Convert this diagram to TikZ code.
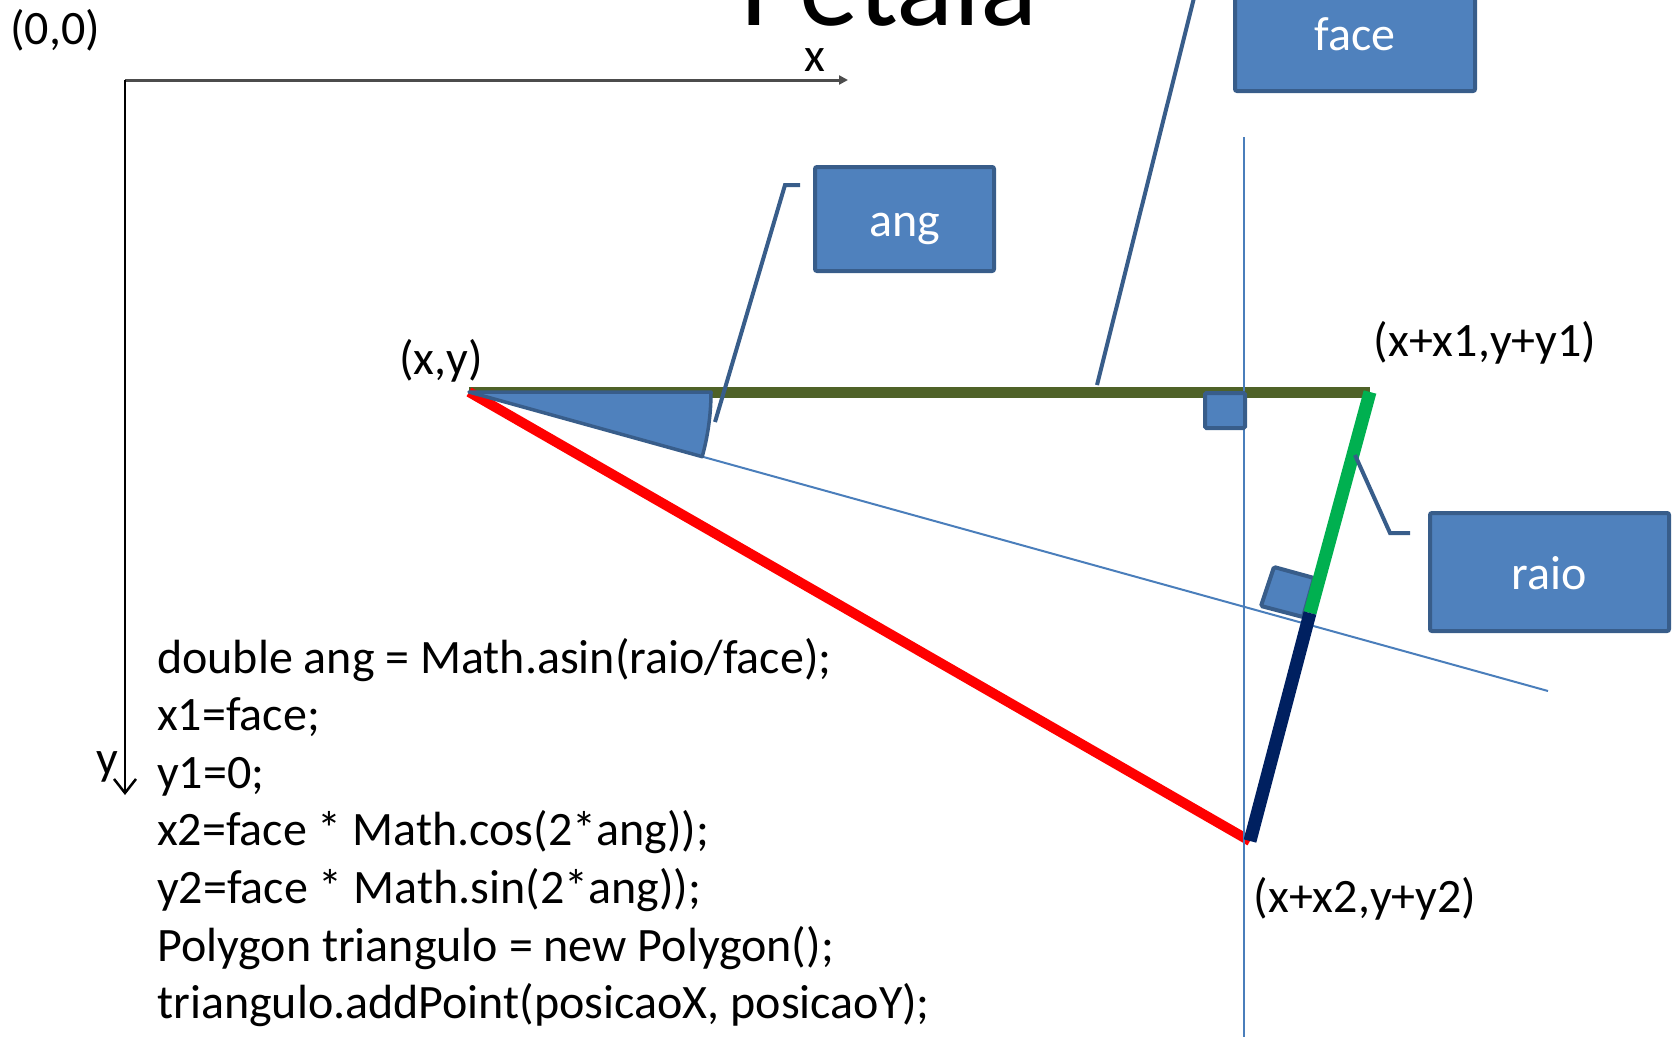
\documentclass[tikz,border=0pt]{standalone}
\usepackage{fontspec}
\setmainfont{Carlito}
\usetikzlibrary{arrows.meta}
\definecolor{boxfill}{HTML}{4F81BD}
\definecolor{boxline}{HTML}{385D8A}
\definecolor{olivebar}{HTML}{4F6228}
\definecolor{greenbar}{HTML}{00B050}
\definecolor{navybar}{HTML}{002060}
\definecolor{thinblue}{HTML}{4A7EBB}
\begin{document}
\begin{tikzpicture}[x=1pt,y=-1pt,
  lbl/.style={font=\fontsize{48}{57.6}\selectfont, inner sep=0pt},
  codeline/.style={lbl, anchor=base west},
  callbox/.style={draw=boxline, line width=4pt, fill=boxfill, rounded corners=2pt,
    text=white, font=\fontsize{48}{57.6}\selectfont, inner sep=0pt,
    text height=34pt, text depth=0pt},
  callline/.style={draw=boxline, line width=4pt},
  rtmark/.style={draw=boxline, fill=boxfill, line width=4pt, rounded corners=1.5pt},
  thin/.style={draw=thinblue, line width=2pt}]
\useasboundingbox (0,0) rectangle (1672,1036);
% key points
\coordinate (O) at (125,80);
\coordinate (xend) at (848,80);
\coordinate (yend) at (125,795);
\coordinate (P0) at (469,392);
\coordinate (P1) at (1370,392);
\coordinate (F) at (1310,613);
\coordinate (P2) at (1250,841);
\coordinate (vtop) at (1244,137);
\coordinate (vbot) at (1244,1045);
\coordinate (sl) at (1548,691);
% title
\node[font=\fontsize{119}{135}\selectfont, anchor=base west, inner sep=0pt] (title) at (740,25) {Petala};
% axes
\draw[black!70, line width=3pt, -{Triangle[length=9pt,width=9pt]}] (O) -- (xend);
\draw[black, line width=2.5pt, -{Straight Barb[length=14pt,width=22pt]}] (O) -- (yend);
\node[lbl] (origin) at (55,30) {(0,0)};
\node[lbl] (xlab) at (815,60) {x};
\node[lbl] (ylab) at (107,767) {y};
% geometry
\draw[olivebar, line width=11pt] (P0) -- (P1);
\draw[red, line width=10pt] (P0) -- (P2);
\draw[thin] (vtop) -- (vbot);
\draw[thin] (P0) -- (sl);
\filldraw[fill=boxfill, draw=boxline, line width=3.5pt, line join=round]
  (P0) -- ++(242,0) arc[start angle=0, end angle=15.5, radius=242] -- cycle;
\draw[rtmark] (1205,393) rectangle (1245,428);
\draw[rtmark] (1261,606) -- (1274,567) -- (1314,578) -- (1303,617) -- cycle;
\draw[greenbar, line width=13pt] (P1) -- (F);
\draw[navybar, line width=13pt] (F) -- (P2);
% point labels
\node[lbl] (xy) at (441,361) {(x,y)};
\node[lbl] (p1lab) at (1485,343) {(x+x1,y+y1)};
\node[lbl] (p2lab) at (1365,899) {(x+x2,y+y2)};
% callouts
\node[callbox, minimum width=179pt, minimum height=104pt] (angbox) at (904.5,219) {ang};
\node[callbox, minimum width=240pt, minimum height=116pt] (facebox) at (1355,33) {face};
\node[callbox, minimum width=239pt, minimum height=118pt] (raiobox) at (1549.5,572) {raio};
\coordinate (angtip) at (715,422);
\coordinate (angknee) at (785,185);
\coordinate (angend) at (800,185);
\coordinate (facetip) at (1097,385);
\coordinate (faceend) at (1201,-30);
\coordinate (raiotip) at (1355,455);
\coordinate (raioknee) at (1390,533);
\coordinate (raioend) at (1410,533);
\draw[callline] (angtip) -- (angknee) -- (angend);
\draw[callline] (facetip) -- (faceend);
\draw[callline] (raiotip) -- (raioknee) -- (raioend);
% code
\node[codeline] (c1) at (157,673) {double ang = Math.asin(raio/face);};
\node[codeline] (c2) at (157,730.6) {x1=face;};
\node[codeline] (c3) at (157,788.2) {y1=0;};
\node[codeline] (c4) at (157,845.8) {x2=face * Math.cos(2*ang));};
\node[codeline] (c5) at (157,903.4) {y2=face * Math.sin(2*ang));};
\node[codeline] (c6) at (157,961) {Polygon triangulo = new Polygon();};
\node[codeline] (c7) at (157,1018.6) {triangulo.addPoint(posicaoX, posicaoY);};
\end{tikzpicture}
\end{document}
